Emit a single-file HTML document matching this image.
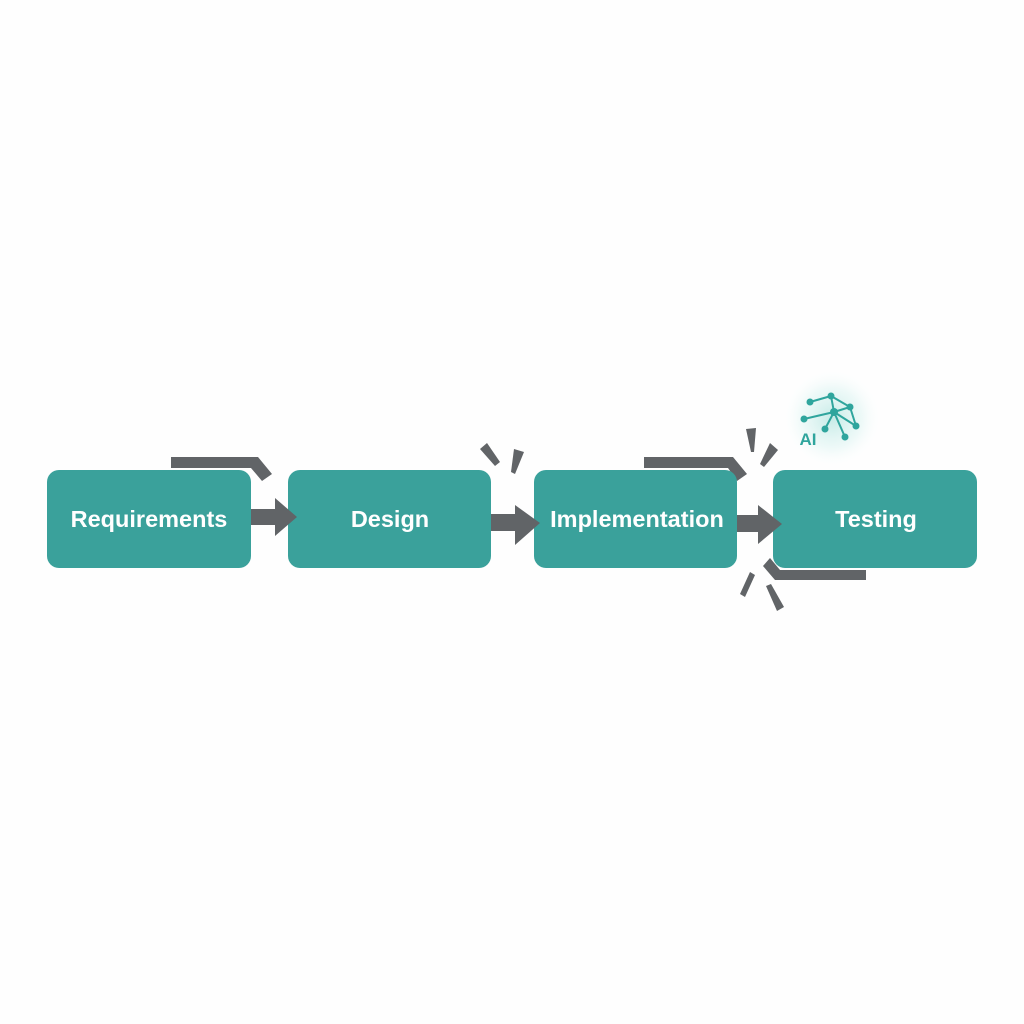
<!DOCTYPE html>
<html><head><style>
body{margin:0;background:#fff;}
svg{display:block}
</style></head><body>
<svg width="1024" height="1024" viewBox="0 0 1024 1024" xmlns="http://www.w3.org/2000/svg">
<defs>
<radialGradient id="g" cx="0.5" cy="0.5" r="0.5">
<stop offset="0" stop-color="#bfe9e4" stop-opacity="0.9"/>
<stop offset="0.6" stop-color="#e3f6f4" stop-opacity="0.6"/>
<stop offset="1" stop-color="#ffffff" stop-opacity="0"/>
</radialGradient>
</defs>
<rect width="1024" height="1024" fill="#fefefe"/>
<path d="M171 457 H258 L272 474 L262 481 L251 468 H171 Z" fill="#616467"/>
<path d="M644 457 H733 L747 474 L737 481 L728 468 H644 Z" fill="#616467"/>
<path d="M770 558 L780 570 H866 V580 H775 L763 566 Z" fill="#616467"/>
<g fill="#3aa19b">
<rect x="47" y="470" width="204" height="98" rx="12"/>
<rect x="288" y="470" width="203" height="98" rx="12"/>
<rect x="534" y="470" width="203" height="98" rx="12"/>
<rect x="773" y="470" width="204" height="98" rx="12"/>
</g>
<g fill="#616467">
<path d="M251 509 H275 V498 L297 517 L275 536 V525 H251 Z"/>
<path d="M491 514 H515 V505 L540 523 L515 545 V531 H491 Z"/>
<path d="M737 515 H758 V505 L782 524 L758 544 V532 H737 Z"/>
<path d="M480 449 L487 443 L500 462 L495 466 Z"/>
<path d="M514 449 L524 452 L515 474 L511 472 Z"/>
<path d="M746 429 L756 428 L754 452 L751 452 Z"/>
<path d="M770 443 L778 450 L764 467 L760 464 Z"/>
<path d="M750 572 L755 575 L745 597 L740 594 Z"/>
<path d="M766 586 L771 584 L784 607 L777 611 Z"/>
</g>
<circle cx="832" cy="418" r="50" fill="url(#g)"/>
<g stroke="#2fa59d" stroke-width="2" fill="none">
<path d="M810 402 L831 396 L850 407 L856 426"/>
<path d="M804 419 L834 412 L850 407"/>
<path d="M831 396 L834 412 L825 429"/>
<path d="M834 412 L845 437"/>
<path d="M834 412 L856 426"/>
</g>
<g fill="#2fa59d">
<circle cx="810" cy="402" r="3.5"/><circle cx="831" cy="396" r="3.5"/><circle cx="850" cy="407" r="3.5"/>
<circle cx="856" cy="426" r="3.5"/><circle cx="804" cy="419" r="3.5"/><circle cx="834" cy="412" r="4"/>
<circle cx="825" cy="429" r="3.5"/><circle cx="845" cy="437" r="3.5"/>
</g>
<text x="808" y="445" font-family="Liberation Sans, sans-serif" font-size="17" font-weight="bold" fill="#2fa59d" text-anchor="middle">AI</text>
<g font-family="Liberation Sans, sans-serif" font-size="23.5" font-weight="bold" fill="#fff" text-anchor="middle">
<text x="149" y="527">Requirements</text>
<text x="390" y="527">Design</text>
<text x="637" y="527">Implementation</text>
<text x="876" y="527">Testing</text>
</g>
</svg>
</body></html>
